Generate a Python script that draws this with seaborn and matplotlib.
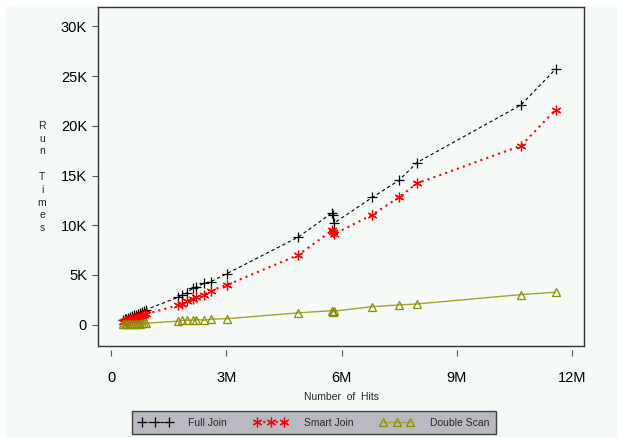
import matplotlib
matplotlib.use("Agg")
import matplotlib.pyplot as plt
import seaborn as sns
import pandas as pd
from matplotlib.lines import Line2D
from matplotlib.patches import Rectangle
from matplotlib.ticker import FuncFormatter

# ==============================
# 1. Data
# ==============================
hits = [300000, 350000, 400000, 450000, 500000, 550000, 600000, 650000, 700000,
        750000, 800000, 850000, 900000, 1750000, 1840000, 1980000, 2120000,
        2210000, 2430000, 2600000, 3020000, 4870000, 5760000, 5780000, 5800000,
        6800000, 7490000, 7960000, 10670000, 11570000]

full_join = [450, 550, 600, 700, 750, 850, 950, 1000, 1100, 1200, 1300, 1400,
             1500, 2750, 2990, 3190, 3660, 3760, 4170, 4330, 5140, 8800, 11260,
             11000, 10200, 12800, 14500, 16300, 22100, 25700]

smart_join = [300, 350, 400, 450, 500, 550, 600, 700, 750, 800, 900, 950, 1050,
              1950, 2080, 2350, 2590, 2750, 3020, 3430, 4000, 7000, 9500, 9300,
              9100, 11050, 12800, 14200, 18000, 21600]

double_scan = [20, 30, 40, 50, 60, 70, 80, 90, 100, 110, 120, 130, 140, 350,
               420, 450, 450, 500, 450, 550, 600, 1180, 1410, 1300, 1350, 1810,
               1980, 2080, 3020, 3260]

series_names = ["Full Join", "Smart Join", "Double Scan"]
x_ticks = [0, 3000000, 6000000, 9000000, 12000000]
y_ticks = [0, 5000, 10000, 15000, 20000, 25000, 30000]

df = pd.DataFrame({"hits": hits, "Full Join": full_join,
                   "Smart Join": smart_join, "Double Scan": double_scan})

# ==============================
# 2. Style
# ==============================
sns.set_style("white")
plt.rcParams["font.family"] = ["Liberation Sans", "DejaVu Sans"]

bg = "#F5FAF7"
fig = plt.figure(figsize=(6.17, 4.37), dpi=100)
fig.patch.set_facecolor("white")
fig.patches.append(Rectangle((6 / 617, 0), 1, 1 - 6 / 437, transform=fig.transFigure,
                             facecolor=bg, edgecolor="none", zorder=-10))

ax = fig.add_axes([98 / 617, 1 - 345.5 / 437, (584 - 98) / 617, (345.5 - 7) / 437])
ax.set_facecolor(bg)

# ==============================
# 3. Lines
# ==============================
sns.lineplot(data=df, x="hits", y="Full Join", ax=ax, sort=False, estimator=None,
             color="black", lw=0.8, marker="+", ms=7, mew=0.9, mec="black")
ax.lines[-1].set_dashes((3, 2.5))
sns.lineplot(data=df, x="hits", y="Smart Join", ax=ax, sort=False, estimator=None,
             color="#FF0000", lw=1.5, marker=(6, 2, 0), ms=7, mew=0.9, mec="#FF0000")
ax.lines[-1].set_linestyle((0, (1, 2)))
sns.lineplot(data=df, x="hits", y="Double Scan", ax=ax, sort=False, estimator=None,
             color="#A3A32E", lw=1.0, marker="^", ms=6, mfc="none", mec="#8C8C00", mew=0.9)

# ==============================
# 4. Axes
# ==============================
ax.set_xlim(-340000, 12310000)
ax.set_ylim(-2100, 31950)
ax.set_xticks(x_ticks)
ax.set_yticks(y_ticks)
ax.xaxis.set_major_formatter(FuncFormatter(lambda v, p: "0" if v == 0 else f"{v / 1e6:.0f}M"))
ax.yaxis.set_major_formatter(FuncFormatter(lambda v, p: "0" if v == 0 else f"{v / 1e3:.0f}K"))
ax.tick_params(axis="both", labelsize=10.5, colors="black", length=4, width=0.8,
               direction="out")
ax.tick_params(axis="x", pad=11, color="#555555")
ax.tick_params(axis="y", pad=4, color="#555555")
ax.xaxis.set_ticks_position("bottom")
ax.yaxis.set_ticks_position("left")

for s in ax.spines.values():
    s.set_color("#333333")
    s.set_linewidth(1.0)
# detached x ticks: move the bottom spine out and redraw the frame edge
ax.spines["bottom"].set_position(("outward", 3))
ax.spines["bottom"].set_visible(False)
ax.add_line(Line2D([0, 1], [0, 0], transform=ax.transAxes, color="#333333",
                   lw=1.0, clip_on=False))

ax.set_xlabel("")
ax.set_ylabel("")
fig.text(341 / 617, 1 - 397 / 437, "Number  of  Hits", ha="center", va="center",
         fontsize=7.5)
fig.text(42 / 617, 1 - 177 / 437, "R\nu\nn\n\nT\ni\nm\ne\ns", ha="center",
         va="center", fontsize=7.5, linespacing=1.35)

# ==============================
# 5. Legend
# ==============================
handles = [
    Line2D([], [], color="black", lw=0.8, dashes=(3, 2.5), marker="+", ms=7, mew=0.9),
    Line2D([], [], color="#FF0000", lw=1.5, ls=(0, (1, 2)), marker=(6, 2, 0), ms=7,
           mew=0.9),
    Line2D([], [], color="#A3A32E", lw=1.0, marker="^", ms=6, mfc="none",
           mec="#8C8C00", mew=0.9),
]
leg = fig.legend(handles, series_names, loc="center", ncol=3, numpoints=3,
                 bbox_to_anchor=(127 / 617, 2 / 437, 374 / 617, 25 / 437),
                 mode="expand", fontsize=7.5, handlelength=3.2, handletextpad=1.6,
                 frameon=True, fancybox=False, facecolor="#B9B9C1",
                 edgecolor="#404040", borderpad=0.6)
leg.get_frame().set_alpha(1)
leg.get_frame().set_linewidth(1.0)

fig.savefig("out.png", dpi=100, facecolor=fig.get_facecolor())
